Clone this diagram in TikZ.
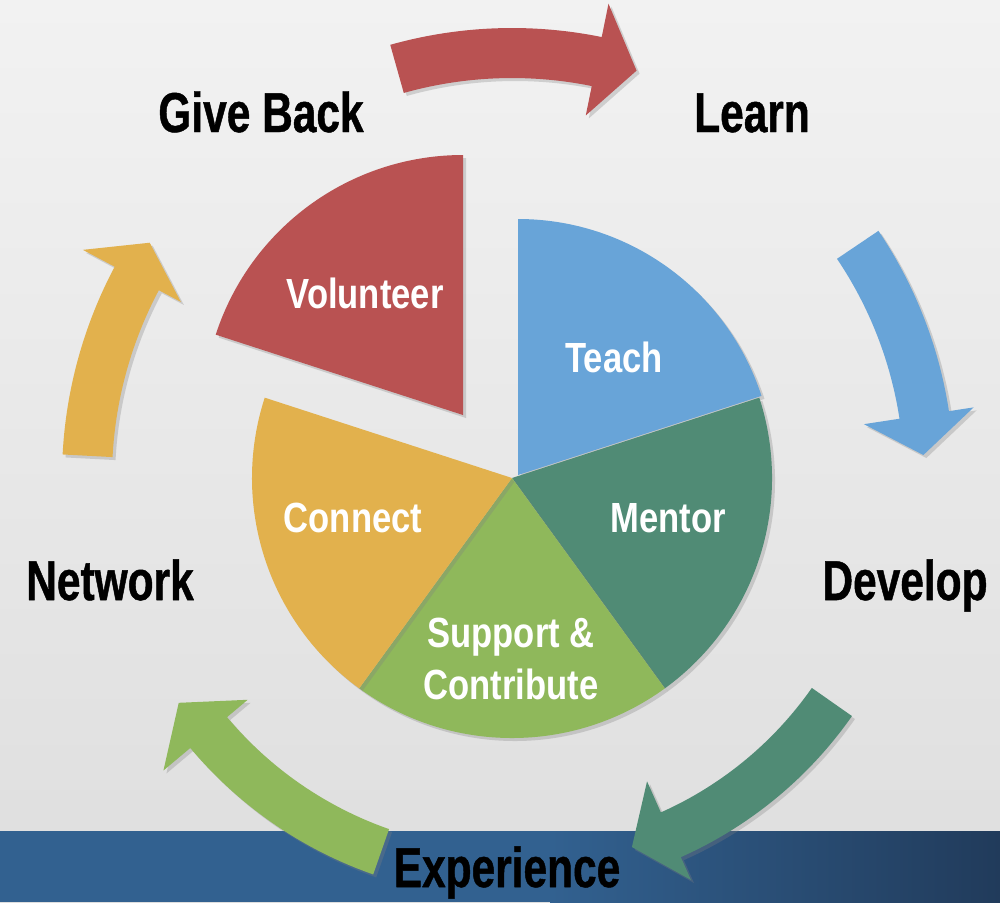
\documentclass[tikz,border=0pt]{standalone}
\usepackage{fontspec}
\newfontfamily\headfont[FakeStretch=0.755,FakeBold=0.8]{Liberation Sans}
\newfontfamily\slicefont[FakeStretch=0.82]{Liberation Sans}
\usetikzlibrary{shadows}

\tikzset{
  pieslice/.style={drop shadow={shadow xshift=0.03cm, shadow yshift=-0.03cm, opacity=0.3}},
  cyclearrow/.style={drop shadow={shadow xshift=0.03cm, shadow yshift=-0.03cm, opacity=0.3}},
  headlabel/.style={font={\headfont\bfseries\fontsize{16}{18}\selectfont}, text=black, anchor=base, inner sep=0pt},
  slicelabel/.style={font={\slicefont\bfseries\fontsize{12}{14.8}\selectfont}, text=white, align=center, inner sep=0pt}
}

\begin{document}
\begin{tikzpicture}[line cap=round, line join=round]

% Colors
\definecolor{volred}{RGB}{185,82,82}
\definecolor{teachblue}{RGB}{104,164,216}
\definecolor{mentorgreen}{RGB}{80,139,117}
\definecolor{supportgreen}{RGB}{143,184,91}
\definecolor{connectyellow}{RGB}{226,177,77}
\definecolor{bgtop}{RGB}{242,242,242}
\definecolor{bgbottom}{RGB}{222,222,222}
\definecolor{bandleft}{RGB}{50,97,144}
\definecolor{bandright}{RGB}{33,59,91}

% Background
\useasboundingbox (0,0) rectangle (10,9.02);
\shade[top color=bgtop, bottom color=bgbottom] (0,0) rectangle (10,9.02);

% Bottom band
\fill[bandleft] (0,0) rectangle (5.5,0.71);
\shade[left color=bandleft, right color=bandright] (5.5,0) rectangle (10,0.71);

% Pie and arrows round one centre
\begin{scope}[shift={(5.12,4.24)}]

  % Teach (pulled out a little)
  \begin{scope}[shift={(0.06,0.03)}]
    \fill[teachblue, pieslice] (0,0) -- (90:2.56) arc[start angle=90, end angle=18, radius=2.56] -- cycle;
  \end{scope}
  \fill[mentorgreen, pieslice] (0,0) -- (18:2.6) arc[start angle=18, end angle=-54, radius=2.6] -- cycle;
  \fill[supportgreen, pieslice] (0,0) -- (-54:2.6) arc[start angle=-54, end angle=-126, radius=2.6] -- cycle;
  \fill[connectyellow, pieslice] (0,0) -- (234:2.6) arc[start angle=234, end angle=162, radius=2.6] -- cycle;

  % Volunteer (exploded)
  \begin{scope}[shift={(-0.49,0.63)}]
    \fill[volred, pieslice] (0,0) -- (162:2.6) arc[start angle=162, end angle=90, radius=2.6] -- cycle;
  \end{scope}

  % Slice labels
  \node[slicelabel, anchor=base] (volunteer) at (-1.47,1.70) {Volunteer};
  \node[slicelabel, anchor=base] (teach) at (1.02,1.06) {Teach};
  \node[slicelabel, anchor=base] (mentor) at (1.56,-0.54) {Mentor};
  \node[slicelabel, anchor=base] (connect) at (-1.59,-0.54) {Connect};
  \node[slicelabel] (support) at (-0.01,-1.805) {Support \&\\Contribute};

  % Curved arrows, clockwise
  \fill[volred, cyclearrow] (105.7:4.50) arc[start angle=105.7, end angle=78.5, radius=4.50]
    -- (78.5:4.84) -- (73:4.26) -- (78.5:3.70) -- (78.5:4.00)
    arc[start angle=78.5, end angle=105.7, radius=4.00] -- cycle;
  \fill[teachblue, cyclearrow] (34:4.42) arc[start angle=34, end angle=8.7, radius=4.42]
    -- (8.7:4.67) -- (3.2:4.12) -- (8.7:3.56) -- (8.7:3.92)
    arc[start angle=8.7, end angle=34, radius=3.92] -- cycle;
  \fill[mentorgreen, cyclearrow] (-35:4.15) arc[start angle=-35, end angle=-66, radius=4.15]
    -- (-66:4.40) -- (-72:3.88) -- (-66:3.32) -- (-66:3.66)
    arc[start angle=-66, end angle=-35, radius=3.66] -- cycle;
  \fill[supportgreen, cyclearrow] (-109.3:4.20) arc[start angle=-109.3, end angle=-140, radius=4.20]
    -- (-140:4.55) -- (-146:4.02) -- (-140:3.45) -- (-140:3.72)
    arc[start angle=-140, end angle=-109.3, radius=3.72] -- cycle;
  \fill[connectyellow, cyclearrow] (177:4.50) arc[start angle=177, end angle=152, radius=4.50]
    -- (152:4.86) -- (147:4.32) -- (152:3.75) -- (152:4.00)
    arc[start angle=152, end angle=177, radius=4.00] -- cycle;
\end{scope}

% Stage labels
\node[headlabel] (giveback) at (2.61,7.70) {Give Back};
\node[headlabel] (learn) at (7.52,7.70) {Learn};
\node[headlabel] (develop) at (9.05,3.02) {Develop};
\node[headlabel] (network) at (1.10,3.02) {Network};
\node[headlabel] (experience) at (5.07,0.15) {Experience};
\end{tikzpicture}
\end{document}
